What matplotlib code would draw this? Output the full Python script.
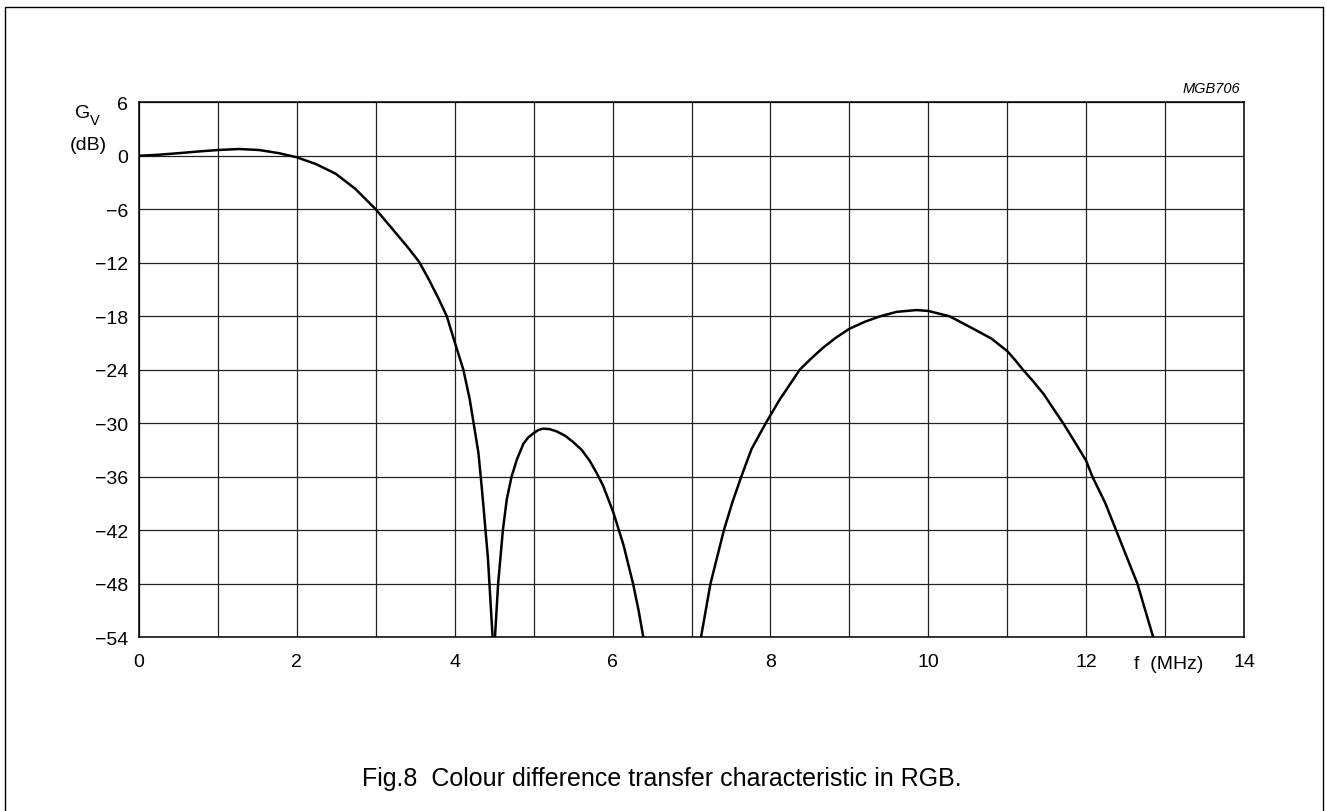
import numpy as np
import matplotlib
matplotlib.use('Agg')
import matplotlib.pyplot as plt
from matplotlib.lines import Line2D

plt.rcParams['font.family'] = ['Liberation Sans', 'DejaVu Sans']
plt.rcParams['font.size'] = 14

# lobe 1 (passband, down to first notch)
f1 = [0.0, 0.25, 0.51, 0.75, 1.0, 1.27, 1.52, 1.77, 2.0, 2.24, 2.49, 2.74, 3.0, 3.21, 3.4, 3.55,
      3.68, 3.80, 3.90, 4.0, 4.11, 4.19, 4.24, 4.30, 4.33, 4.36, 4.39, 4.42, 4.44, 4.48]
g1 = [0.0, 0.12, 0.3, 0.48, 0.65, 0.76, 0.65, 0.3, -0.17, -0.92, -2.0, -3.7, -6.0, -8.2, -10.2, -11.9,
      -14.0, -16.1, -18.0, -20.9, -24.0, -27.3, -30.0, -33.3, -36.0, -38.9, -42.0, -45.0, -48.0, -54.0]
# lobe 2
f2 = [4.51, 4.55, 4.61, 4.66, 4.72, 4.79, 4.87, 4.93, 5.0, 5.06, 5.12, 5.2, 5.29, 5.4, 5.50, 5.61,
      5.71, 5.80, 5.88, 6.01, 6.14, 6.26, 6.33, 6.39]
g2 = [-54.0, -48.0, -42.0, -38.5, -36.0, -34.0, -32.3, -31.6, -31.1, -30.75, -30.6, -30.65, -30.9, -31.4,
      -32.1, -33.0, -34.2, -35.6, -37.0, -40.0, -43.7, -48.0, -51.0, -54.0]
# lobe 3
f3 = [7.12, 7.24, 7.41, 7.52, 7.63, 7.76, 7.94, 8.12, 8.25, 8.37, 8.52, 8.67, 8.83, 9.0, 9.2, 9.39, 9.6,
      9.85, 10.0, 10.27, 10.57, 10.8, 11.0, 11.1, 11.2, 11.33, 11.46, 11.58, 11.71, 11.85, 12.0, 12.08,
      12.24, 12.38, 12.51, 12.65, 12.75, 12.85]
g3 = [-54.0, -48.0, -42.0, -38.8, -36.0, -32.9, -30.0, -27.3, -25.6, -24.0, -22.7, -21.5, -20.4, -19.4,
      -18.6, -18.0, -17.5, -17.3, -17.4, -18.0, -19.4, -20.5, -21.9, -22.9, -24.0, -25.3, -26.7, -28.3,
      -30.0, -32.0, -34.2, -36.0, -38.9, -42.0, -44.9, -48.0, -51.0, -54.0]

xticks = [0, 2, 4, 6, 8, 10, 12, 14]
yticks = [6, 0, -6, -12, -18, -24, -30, -36, -42, -48, -54]

W, H = 1327, 812
fig = plt.figure(figsize=(W/100, H/100), dpi=100)
ax = fig.add_axes([139/W, 1-638.3/H, (1244-139)/W, (638.3-103.3)/H])

for f, g in [(f1, g1), (f2, g2), (f3, g3)]:
    ax.plot(f, g, color='black', lw=1.8, solid_joinstyle='round', solid_capstyle='butt', zorder=3)

ax.set_xlim(0, 14)
ax.set_ylim(-54, 6)
ax.set_xticks(np.arange(0, 15, 1))
ax.set_xticklabels([str(v) if v in xticks else '' for v in range(15)])
ax.set_yticks(yticks)
ax.set_yticklabels([str(v).replace('-', '\u2212') for v in yticks])
ax.grid(True, color='#222222', lw=0.9)
ax.tick_params(length=0, labelsize=14)
ax.tick_params(axis='x', pad=11)
ax.tick_params(axis='y', pad=8)
for s in ax.spines.values():
    s.set_linewidth(1.1)

# axis labels as free text, as in the datasheet
fig.text(83/W, 1-113/H, 'G', ha='center', va='center', fontsize=14)
fig.text(95/W, 1-121/H, 'V', ha='center', va='center', fontsize=10.5)
fig.text(88/W, 1-145/H, '(dB)', ha='center', va='center', fontsize=14)
fig.text(1169/W, 1-665/H, 'f  (MHz)', ha='center', va='center', fontsize=14)
fig.text(1240/W, 1-89/H, 'MGB706', ha='right', va='center', fontsize=10.5, style='italic')
fig.text(662/W, 1-779/H, 'Fig.8  Colour difference transfer characteristic in RGB.',
         ha='center', va='center', fontsize=18)

# page frame
x0, x1, yt = 4.5/W, 1322.5/W, 1-7.5/H
fig.add_artist(Line2D([x0, x0, x1, x1], [-0.01, yt, yt, -0.01], color='black', lw=1.0,
                      transform=fig.transFigure))

fig.savefig('out.png', dpi=100)
